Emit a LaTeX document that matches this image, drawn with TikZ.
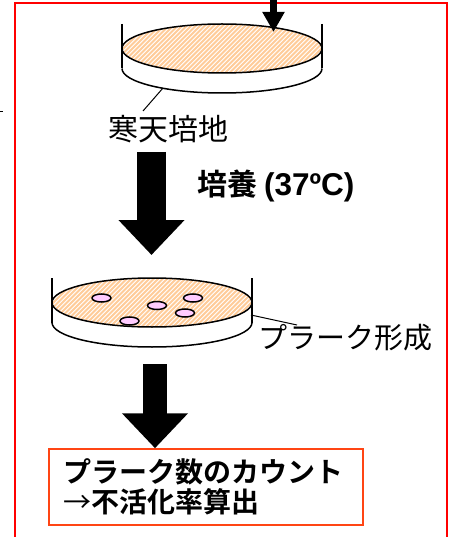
\documentclass[tikz,border=0pt]{standalone}
\usepackage{fontspec}
\setmainfont{Noto Sans CJK JP}[BoldFont={Noto Sans CJK JP Bold}]
\newfontfamily\latn{Liberation Sans}
\usepackage{tikz}
\usetikzlibrary{arrows.meta, positioning, shapes.geometric}

\definecolor{agar}{RGB}{255,204,153}
\definecolor{plaque}{RGB}{255,204,255}
\definecolor{framered}{RGB}{255,0,0}
\definecolor{boxred}{RGB}{255,69,20}

\tikzset{
  rim/.style={line width=1.5pt},
  wall/.style={line width=2.3pt},
  hatch/.style={draw=agar, line width=2pt},
  spot/.style={draw, ellipse, line width=1.5pt, fill=plaque, minimum width=19pt, minimum height=8pt, inner sep=0pt},
  lead/.style={line width=1pt},
  label/.style={inner sep=0pt, font=\fontsize{30}{34}\selectfont},
  bigarrow/.style={line width=29pt, -{Triangle[length=35pt,width=64pt]}},
  feedarrow/.style={line width=7pt, -{Triangle[length=20pt,width=21pt]}},
  resultbox/.style={draw=boxred, line width=1.5pt, minimum width=314pt, minimum height=76pt,
    inner xsep=14pt, text width=286pt, align=left,
    font=\bfseries\fontsize{28}{30}\selectfont},
  % petri dish, origin at the centre of the agar surface
  petri/.pic={
    \draw[rim, fill=white] (-100,20) arc[start angle=180, end angle=0, x radius=100, y radius=24.5];
    \fill[white] (-100,0) rectangle (100,20);
    \draw[wall] (-100,-24.5) -- (-100,20);
    \draw[wall] (100,-24.5) -- (100,20);
    \begin{scope}
      \clip (0,0) ellipse[x radius=100, y radius=24.5];
      \fill[white] (-100,-25) rectangle (100,25);
      \foreach \i in {-160,-155.5,...,110}
        \draw[hatch] (\i,30) -- ++(60,-60);
    \end{scope}
    \draw[rim] (0,0) ellipse[x radius=100, y radius=24.5];
  }
}

\begin{document}
\begin{tikzpicture}[x=1pt, y=-1pt]
  \useasboundingbox (0,0) rectangle (450,537);

  % outer frame
  \draw[framered, line width=2pt] (14.5,3) rectangle (447,560);
  \coordinate (stubA) at (0,112);
  \coordinate (stubB) at (2.5,112);
  \draw[line width=1pt] (stubA) -- (stubB);

  % agar plate
  \coordinate (feedTop) at (273.5,-5);
  \coordinate (feedEnd) at (273.5,32);
  \pic at (222,48.5) {petri};
  \draw[feedarrow] (feedTop) -- (feedEnd);

  \coordinate (leadA) at (163,88);
  \coordinate (agarTop) at (143,111);
  \node[label] (agarlbl) at (168.5,129) {寒天培地};
  \draw[lead] (leadA) -- (agarTop);

  % incubation
  \coordinate (incTop) at (151.5,152);
  \coordinate (incEnd) at (151.5,255);
  \draw[bigarrow] (incTop) -- (incEnd);
  \node[label, font=\bfseries\fontsize{30}{34}\selectfont, anchor=west] (inclbl) at (197,186)
    {培養 {\latn\fontsize{31.5}{34}\selectfont (37ºC)}};

  % plate with plaques
  \pic at (152,302.5) {petri};
  \foreach \px/\py [count=\k] in {101.5/298, 193/298, 157/305.5, 185/313, 129.5/321}
    \node[spot] (p\k) at (\px,\py) {};

  \coordinate (leadB) at (251,315);
  \coordinate (plaqueTop) at (297,325);
  \draw[lead] (leadB) -- (plaqueTop);
  \node[label, font=\fontsize{29}{34}\selectfont] (plaquelbl) at (345,338) {プラーク形成};

  % counting
  \coordinate (cntTop) at (155,364);
  \node[resultbox] (result) at (206,487)
    {プラーク数のカウント\\{\mdseries →}不活化率算出};
  \draw[bigarrow, line width=24pt] (cntTop) -- (result.north -| cntTop);
\end{tikzpicture}
\end{document}
